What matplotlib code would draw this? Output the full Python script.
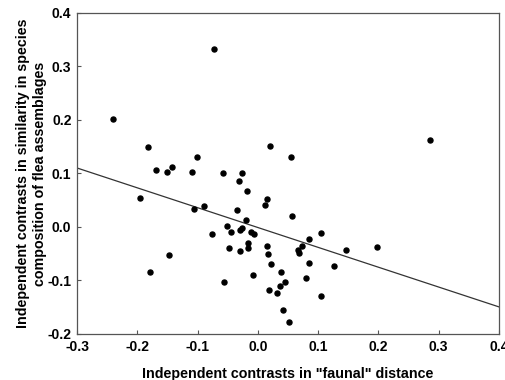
import matplotlib
matplotlib.use("Agg")
import matplotlib.pyplot as plt
import numpy as np

# independent contrasts: "faunal" distance vs. similarity in flea assemblages
faunal_dist = [-0.240, -0.072, -0.182, -0.169, -0.150, -0.142, -0.110, -0.101,
               -0.058, -0.032, -0.026, -0.018, -0.195, 0.020, 0.055, 0.285,
               0.015, 0.012, 0.056, -0.106, -0.090, -0.034, -0.020, -0.052,
               -0.045, -0.076, -0.030, -0.026, -0.011, -0.006, -0.016, -0.048,
               -0.029, -0.016, -0.148, -0.179, -0.056, -0.008, 0.105, 0.147,
               0.198, 0.127, 0.085, 0.074, 0.067, 0.069, 0.015, 0.017,
               0.022, 0.085, 0.039, 0.045, 0.036, 0.018, 0.031, 0.080,
               0.105, 0.042, 0.052]
similarity = [0.202, 0.333, 0.150, 0.106, 0.102, 0.113, 0.102, 0.130,
              0.100, 0.086, 0.100, 0.067, 0.054, 0.151, 0.131, 0.162,
              0.053, 0.042, 0.020, 0.034, 0.040, 0.031, 0.013, 0.002,
              -0.009, -0.014, -0.005, -0.001, -0.010, -0.014, -0.029, -0.040,
              -0.044, -0.040, -0.052, -0.085, -0.103, -0.090, -0.011, -0.043,
              -0.038, -0.073, -0.023, -0.036, -0.043, -0.049, -0.036, -0.051,
              -0.070, -0.067, -0.085, -0.103, -0.111, -0.118, -0.123, -0.095,
              -0.129, -0.156, -0.178]

# regression line
fit_slope = -0.371
fit_intercept = -0.001

x_ticks = [-0.3, -0.2, -0.1, 0.0, 0.1, 0.2, 0.3, 0.4]
y_ticks = [-0.2, -0.1, 0.0, 0.1, 0.2, 0.3, 0.4]

fig = plt.figure(figsize=(5.06, 3.8), dpi=100)
ax = fig.add_axes([0.1522, 0.1211, 0.8340, 0.8447])

x_line = np.array([-0.3, 0.4])
ax.plot(x_line, fit_slope * x_line + fit_intercept, color="#333333", lw=0.9)
ax.scatter(faunal_dist, similarity, s=13, color="black", zorder=3)

ax.set_xlim(-0.3, 0.4)
ax.set_ylim(-0.2, 0.4)
ax.set_xticks(x_ticks)
ax.set_yticks(y_ticks)
ax.set_xticklabels([f"{v:.1f}" for v in x_ticks])
ax.set_yticklabels([f"{v:.1f}" for v in y_ticks])

tick_font = {"family": ["Liberation Sans Narrow", "Liberation Sans"],
             "weight": "bold", "size": 10}
for lab in ax.get_xticklabels() + ax.get_yticklabels():
    lab.set_fontproperties(matplotlib.font_manager.FontProperties(**tick_font))
ax.tick_params(direction="in", length=3, width=0.8, color="#555555", pad=4)

for sp in ax.spines.values():
    sp.set_color("#555555")
    sp.set_linewidth(0.9)

label_font = {"family": "Liberation Sans", "weight": "bold", "size": 10.3}
ax.set_xlabel("Independent contrasts in \"faunal\" distance", fontdict=label_font,
              labelpad=10)
ax.set_ylabel("Independent contrasts in similarity in species\n"
              "composition of flea assemblages", fontdict=label_font,
              labelpad=0, linespacing=1.3)

fig.savefig("out.png", dpi=100)
